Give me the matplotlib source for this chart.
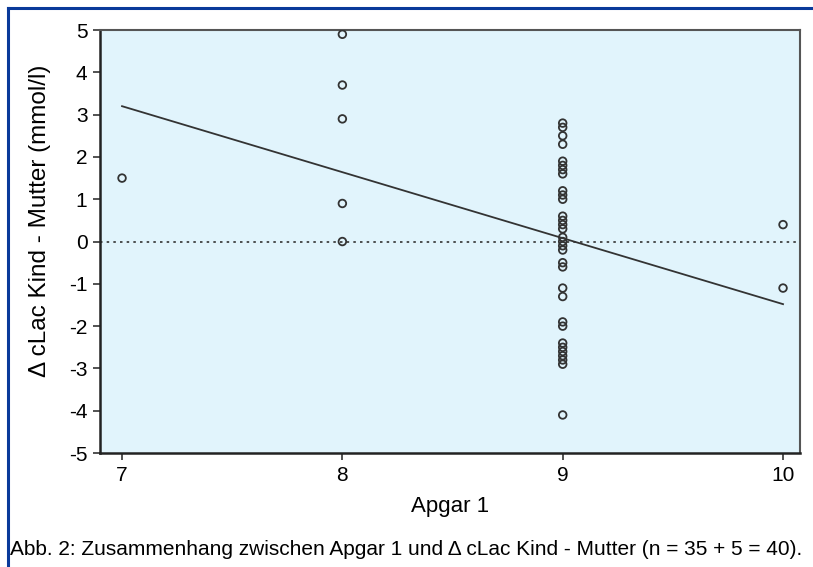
import matplotlib
matplotlib.use("Agg")
import matplotlib.pyplot as plt
from matplotlib.lines import Line2D
import numpy as np

plt.rcParams['font.family'] = ['Liberation Sans', 'DejaVu Sans']
plt.rcParams['axes.unicode_minus'] = False

# Data
apgar7 = [1.5]
apgar8 = [4.9, 3.7, 2.9, 0.9, 0.0]
apgar9 = [2.8, 2.7, 2.5, 2.3, 1.9, 1.8, 1.7, 1.6, 1.2, 1.1, 1.0, 0.6,
          0.5, 0.4, 0.3, 0.1, 0.0, -0.1, -0.2, -0.5, -0.6, -1.1, -1.3,
          -1.9, -2.0, -2.4, -2.5, -2.6, -2.7, -2.8, -2.9, -4.1]
apgar10 = [0.4, -1.1]
fit_x = [7, 10]
fit_y = [3.2, -1.48]
x_ticks = [7, 8, 9, 10]
y_ticks = list(range(-5, 6))

xs = [7] * len(apgar7) + [8] * len(apgar8) + [9] * len(apgar9) + [10] * len(apgar10)
ys = apgar7 + apgar8 + apgar9 + apgar10

fig = plt.figure(figsize=(8.13, 5.67), dpi=100)
ax = fig.add_axes([0.123, 0.201, 0.861, 0.746])
ax.set_facecolor('#e1f4fc')

ax.axhline(0, color='#333333', lw=1.2, ls=(0, (1.5, 2.5)), zorder=1)
ax.plot(fit_x, fit_y, color='#333333', lw=1.3, zorder=2)
ax.scatter(xs, ys, s=30, facecolors='none', edgecolors='#333333', linewidths=1.3, zorder=3)

ax.set_xlim(6.9, 10.077)
ax.set_ylim(-5, 5)
ax.set_xticks(x_ticks)
ax.set_yticks(y_ticks)
ax.tick_params(labelsize=15, length=5, width=1.2, color='#333333', direction='out', pad=4)
for side in ['left', 'bottom']:
    ax.spines[side].set_linewidth(1.8)
    ax.spines[side].set_color('#222222')
for side in ['top', 'right']:
    ax.spines[side].set_linewidth(1.5)
    ax.spines[side].set_color('#555555')

ax.set_xlabel('Apgar 1', fontsize=16, labelpad=8)
ax.set_ylabel('\u0394 cLac Kind - Mutter (mmol/l)', fontsize=17.5)
ax.yaxis.set_label_coords(-0.07, 0.548)

fig.text(0.012, 0.022, 'Abb. 2: Zusammenhang zwischen Apgar 1 und \u0394 cLac Kind - Mutter (n = 35 + 5 = 40).',
         fontsize=15, ha='left', va='baseline')

# blue frame
fig.add_artist(Line2D([0.0098, 1.0], [0.986, 0.986], transform=fig.transFigure, color='#0a3a9a', lw=2.2))
fig.add_artist(Line2D([0.0098, 0.0098], [0.0, 0.986], transform=fig.transFigure, color='#0a3a9a', lw=2.2))

fig.savefig('out.png', dpi=100)
